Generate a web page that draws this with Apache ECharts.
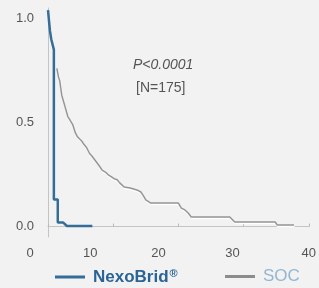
<!DOCTYPE html>
<html>
<head>
<meta charset="utf-8">
<script src="https://cdn.jsdelivr.net/npm/echarts@6/dist/echarts.min.js"></script>
<style>
  html, body { margin: 0; padding: 0; background: #f2f2f2; }
  #chart { width: 319px; height: 288px; }
</style>
</head>
<body>
<div id="chart"></div>
<script>
  // tick labels
  const xTicks = [0, 10, 20, 30, 40];
  const yTicks = [0, 0.5, 1.0];

  // Kaplan-Meier curves, [weeks, proportion]
  const nexobrid = [
    [0, 1.04], [0.3, 0.94], [0.5, 0.9], [0.9, 0.85], [0.9, 0.13],
    [1.5, 0.13], [1.5, 0.02], [2.3, 0.02], [2.9, 0.003], [6.8, 0.003]
  ];
  const soc = [
    [1.36, 0.76], [1.6, 0.72], [1.8, 0.7], [2.12, 0.63], [2.4, 0.6], [2.58, 0.58],
    [3.03, 0.53], [3.4, 0.51], [3.79, 0.49], [4.2, 0.45], [4.55, 0.43], [5.2, 0.41],
    [5.5, 0.395], [5.91, 0.38], [6.4, 0.35], [6.7, 0.34], [7.42, 0.31], [7.9, 0.29],
    [8.33, 0.27], [8.8, 0.262], [9.2, 0.25], [10.15, 0.23], [10.6, 0.225], [11.0, 0.21],
    [11.67, 0.19], [12.6, 0.185], [13.64, 0.176], [14.24, 0.166], [14.6, 0.15], [15.0, 0.128],
    [15.76, 0.113], [20.0, 0.113], [20.45, 0.089], [21.0, 0.08], [21.5, 0.065], [21.97, 0.046],
    [27.88, 0.046], [28.64, 0.022], [34.85, 0.022], [35.15, 0.008], [37.73, 0.008]
  ];

  // label nudges so the numbers sit where the picture has them
  const xShift = { 0: 36, 10: 46, 20: 40, 30: 22, 40: 0 };

  const chart = echarts.init(document.getElementById('chart'));
  const font = 'Liberation Sans, Arial, sans-serif';

  const rich = {};
  xTicks.forEach(v => {
    rich['s' + v] = { fontSize: 13, color: '#555', fontFamily: font, padding: [0, xShift[v], 0, 0] };
  });

  chart.setOption({
    backgroundColor: '#f2f2f2',
    animation: false,
    grid: { left: 48, right: 7, top: 8, bottom: 51 },
    xAxis: {
      type: 'value',
      min: 0,
      max: 40,
      interval: 10,
      axisLine: { lineStyle: { color: '#c4c4c4', width: 1 } },
      axisTick: { show: true, inside: true, length: 3, lineStyle: { color: '#b8b8b8' } },
      splitLine: { show: false },
      axisLabel: {
        margin: 10,
        formatter: v => xTicks.includes(v) ? '{s' + v + '|' + v + '}' : '',
        rich: rich
      }
    },
    yAxis: {
      type: 'value',
      min: -0.05,
      max: 1.05,
      axisLine: { show: true, lineStyle: { color: '#c4c4c4', width: 1 } },
      axisTick: { show: false },
      splitLine: { show: false },
      axisLabel: {
        customValues: yTicks,
        margin: 14,
        fontSize: 13,
        color: '#555',
        fontFamily: font,
        formatter: v => v.toFixed(1)
      }
    },
    legend: [
      {
        data: ['NexoBrid®'],
        left: 50, top: 263, icon: 'rect', itemWidth: 30, itemHeight: 3,
        formatter: () => '{a|NexoBrid}{b|®}',
        textStyle: {
          fontFamily: font,
          rich: {
            a: { fontSize: 17, fontWeight: 'bold', color: '#2a6497', fontFamily: font, padding: [0, 0, 0, 3] },
            b: { fontSize: 11, fontWeight: 'bold', color: '#2a6497', fontFamily: font, padding: [0, 0, 7, 1] }
          }
        },
        selectedMode: false
      },
      {
        data: ['SOC'],
        left: 220, top: 263, icon: 'rect', itemWidth: 30, itemHeight: 3,
        textStyle: { fontSize: 17, color: '#93b6d2', fontFamily: font, padding: [0, 0, 0, 3] },
        selectedMode: false
      }
    ],
    graphic: [
      {
        type: 'text', left: 133, top: 58,
        style: { text: 'P<0.0001', fontSize: 14, fontStyle: 'italic', fill: '#555', fontFamily: font }
      },
      {
        type: 'text', left: 136, top: 81,
        style: { text: '[N=175]', fontSize: 14, fill: '#555', fontFamily: font }
      }
    ],
    series: [
      {
        name: 'SOC',
        type: 'line',
        data: soc,
        showSymbol: false,
        color: '#8c8c8c',
        lineStyle: { width: 1.5, color: '#959595', shadowColor: '#ffffff', shadowOffsetY: 1.5, shadowOffsetX: 0.5, shadowBlur: 0 },
        z: 2
      },
      {
        name: 'NexoBrid®',
        type: 'line',
        data: nexobrid,
        showSymbol: false,
        color: '#346d98',
        lineStyle: { width: 2.5, color: '#346d98' },
        z: 3
      }
    ]
  });
</script>
</body>
</html>
